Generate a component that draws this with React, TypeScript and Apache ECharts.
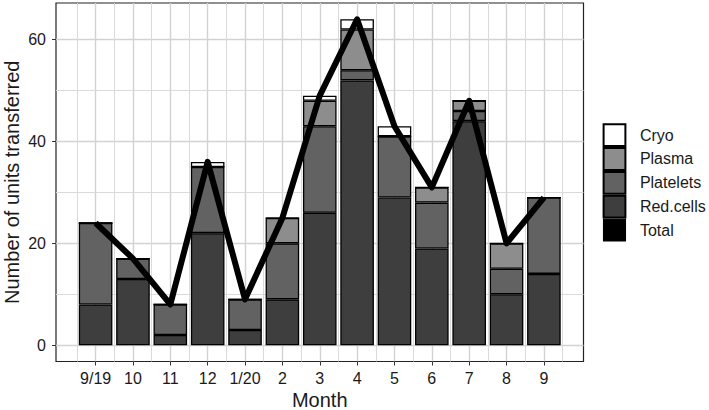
import React, { useEffect, useRef } from "react";
import * as echarts from "echarts";

const months = ["9/19", "10", "11", "12", "1/20", "2", "3", "4", "5", "6", "7", "8", "9"];
const redCells = [8, 13, 2, 22, 3, 9, 26, 52, 29, 19, 44, 10, 14];
const platelets = [16, 4, 6, 13, 6, 11, 17, 2, 12, 9, 2, 5, 15];
const plasma = [0, 0, 0, 0, 0, 5, 5, 8, 0, 3, 2, 5, 0];
const cryo = [0, 0, 0, 1, 0, 0, 1, 2, 2, 0, 0, 0, 0];
const total = [24, 17, 8, 36, 9, 25, 49, 64, 43, 31, 48, 20, 29];
const yTicks = [0, 20, 40, 60];
const yMinor = [10, 30, 50];
const xTicks = months.map((_, i) => i);
const xMinor = [-0.5, 0.5, 1.5, 2.5, 3.5, 4.5, 5.5, 6.5, 7.5, 8.5, 9.5, 10.5, 11.5, 12.5];

const FONT = "'Liberation Sans', Arial, Helvetica, sans-serif";
const TXT = "#1a1a1a";

export default function App() {
  const ref = useRef<HTMLDivElement>(null);
  useEffect(() => {
    if (!ref.current) return;
    const chart = echarts.init(ref.current, undefined, { renderer: "svg" });
    // value first so that the stack is computed on the y dimension
    const barSeries = (name: string, vals: number[], color: string) => ({
      name,
      type: "bar",
      stack: "units",
      barWidth: 33.6,
      data: vals.map((v, i) => [v, i]),
      encode: { x: 1, y: 0 },
      itemStyle: { color, borderColor: "#000", borderWidth: 1.3 },
      z: 2,
    });
    chart.setOption({
      animation: false,
      grid: {
        left: 56,
        top: 3,
        right: 125.5,
        bottom: 48.5,
        show: true,
        borderColor: "#222",
        borderWidth: 1.2,
        backgroundColor: "#fff",
        containLabel: false,
        outerBoundsMode: "none",
      },
      legend: {
        orient: "vertical",
        left: 602.6,
        top: 123.3,
        padding: 0,
        itemWidth: 21.8,
        itemHeight: 21.8,
        itemGap: 0,
        icon: "rect",
        selectedMode: false,
        data: [
          "Cryo",
          "Plasma",
          "Platelets",
          "Red.cells",
          { name: "Total", itemStyle: { color: "#000", opacity: 1, borderColor: "#000", borderWidth: 1.3 } },
        ],
        textStyle: { fontSize: 16, color: TXT, fontFamily: FONT, padding: [0, 0, 0, 9.5] },
      },
      xAxis: {
        type: "value",
        min: -1.06,
        max: 13.06,
        name: "Month",
        nameLocation: "middle",
        nameGap: 28.5,
        nameMoveOverlap: false,
        nameTextStyle: { fontSize: 20, color: TXT, fontFamily: FONT },
        axisLine: { show: false, onZero: false },
        axisTick: { show: true, length: 4, lineStyle: { color: "#333", width: 1 }, customValues: xTicks },
        axisLabel: {
          customValues: xTicks,
          fontSize: 16,
          color: TXT,
          fontFamily: FONT,
          margin: 9,
          formatter: (v: number) => (Number.isInteger(v) && months[v] !== undefined ? months[v] : ""),
        },
        splitLine: { show: true, lineStyle: { color: "#d2d2d2", width: 1.4 } },
      },
      yAxis: {
        type: "value",
        min: -3.2,
        max: 67.2,
        name: "Number of units transferred",
        nameLocation: "middle",
        nameGap: 34,
        nameMoveOverlap: false,
        nameTextStyle: { fontSize: 20, color: TXT, fontFamily: FONT },
        axisLine: { show: false, onZero: false },
        axisTick: { show: true, length: 4, lineStyle: { color: "#333", width: 1 }, customValues: yTicks },
        axisLabel: {
          customValues: yTicks,
          fontSize: 16,
          color: TXT,
          fontFamily: FONT,
          margin: 10,
          formatter: (v: number) => (yTicks.includes(v) ? String(v) : ""),
        },
        splitLine: { show: true, lineStyle: { color: "#d2d2d2", width: 1.4 } },
      },
      series: [
        barSeries("Red.cells", redCells, "#3e3e3e"),
        barSeries("Platelets", platelets, "#626262"),
        barSeries("Plasma", plasma, "#8d8d8d"),
        barSeries("Cryo", cryo, "#ffffff"),
        {
          name: "Total",
          type: "scatter",
          data: [],
          itemStyle: { color: "#000", opacity: 1 },
          markLine: {
            silent: true,
            z: 1,
            symbol: ["none", "none"],
            label: { show: false },
            lineStyle: { color: "#dadada", width: 1, type: "solid" },
            emphasis: { disabled: true },
            data: [
              ...xMinor.map((x) => ({ xAxis: x })),
              ...yMinor.map((y) => ({ yAxis: y })),
            ],
          },
        },
        {
          name: "Total",
          type: "line",
          data: total.map((v, i) => [i, v]),
          symbol: "none",
          showSymbol: false,
          lineStyle: { color: "#000", width: 6, join: "round", cap: "butt" },
          itemStyle: { color: "#000" },
          z: 3,
        },
      ],
    });
    return () => chart.dispose();
  }, []);
  return <div ref={ref} style={{ position: "absolute", left: 0, top: 0, width: 709, height: 410 }} />;
}
